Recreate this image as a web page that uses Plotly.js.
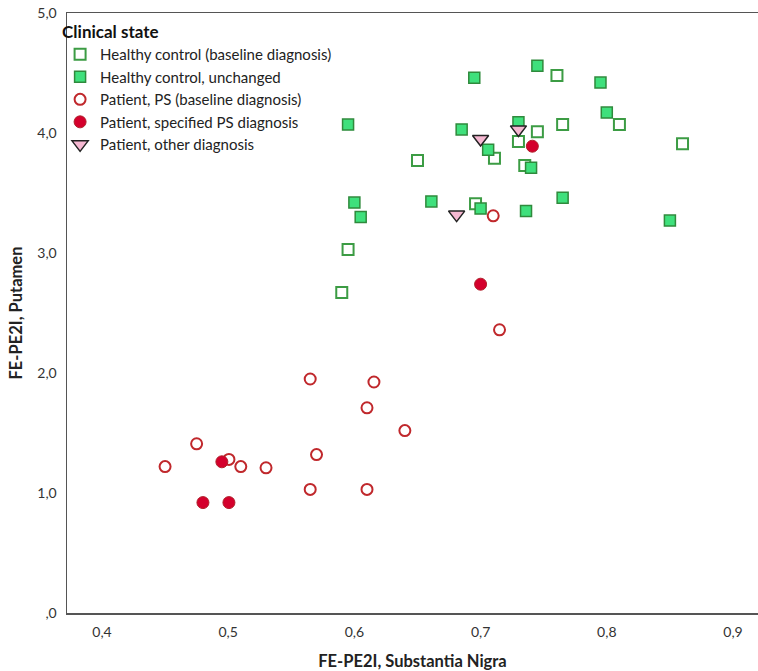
<!DOCTYPE html>
<html>
<head>
<meta charset="utf-8">
<script src="https://cdn.plot.ly/plotly-3.0.1.min.js"></script>
<style>html,body{margin:0;padding:0;background:#fff;}#chart{width:758px;height:671px;}</style>
</head>
<body>
<div id="chart"></div>
<script>
// Healthy control (baseline diagnosis)
const hcBaseX = [0.590, 0.595, 0.650, 0.696, 0.711, 0.730, 0.735, 0.745, 0.765, 0.7605, 0.810, 0.860];
const hcBaseY = [2.67, 3.03, 3.77, 3.41, 3.79, 3.93, 3.73, 4.01, 4.07, 4.48, 4.07, 3.91];
// Healthy control, unchanged
const hcUnchX = [0.695, 0.745, 0.795, 0.595, 0.685, 0.730, 0.800, 0.706, 0.740, 0.600, 0.605, 0.661, 0.700, 0.736, 0.765, 0.850];
const hcUnchY = [4.46, 4.56, 4.42, 4.07, 4.03, 4.09, 4.17, 3.86, 3.71, 3.42, 3.30, 3.43, 3.37, 3.35, 3.46, 3.27];
// Patient, PS (baseline diagnosis)
const psBaseX = [0.710, 0.715, 0.565, 0.6155, 0.610, 0.640, 0.475, 0.570, 0.450, 0.5006, 0.510, 0.530, 0.565, 0.610];
const psBaseY = [3.31, 2.36, 1.95, 1.925, 1.71, 1.52, 1.41, 1.32, 1.22, 1.28, 1.22, 1.21, 1.03, 1.03];
// Patient, specified PS diagnosis
const psSpecX = [0.741, 0.700, 0.495, 0.480, 0.5006];
const psSpecY = [3.89, 2.74, 1.26, 0.92, 0.92];
// Patient, other diagnosis
const otherX = [0.730, 0.700, 0.681];
const otherY = [4.03, 3.95, 3.32];

const xTickVals = [0.4, 0.5, 0.6, 0.7, 0.8, 0.9];
const xTickText = ["0,4", "0,5", "0,6", "0,7", "0,8", "0,9"];
const yTickVals = [0, 1, 2, 3, 4, 5];
const yTickText = [",0", "1,0", "2,0", "3,0", "4,0", "5,0"];

const seriesNames = [
  "Healthy control (baseline diagnosis)",
  "Healthy control, unchanged",
  "Patient, PS (baseline diagnosis)",
  "Patient, specified PS diagnosis",
  "Patient, other diagnosis"
];

const traces = [
  {x: hcBaseX, y: hcBaseY, name: seriesNames[0], type: "scatter", mode: "markers",
   marker: {symbol: "square", size: 11, color: "#ffffff", line: {color: "#3c9c44", width: 2}}},
  {x: hcUnchX, y: hcUnchY, name: seriesNames[1], type: "scatter", mode: "markers",
   marker: {symbol: "square", size: 11, color: "#3fe07c", line: {color: "#2f8a3c", width: 1.5}}},
  {x: psBaseX, y: psBaseY, name: seriesNames[2], type: "scatter", mode: "markers",
   marker: {symbol: "circle", size: 11, color: "#ffffff", line: {color: "#c0282c", width: 2}}},
  {x: psSpecX, y: psSpecY, name: seriesNames[3], type: "scatter", mode: "markers",
   marker: {symbol: "circle", size: 12, color: "#d4002c", line: {color: "#b0202a", width: 1}}},
  {x: otherX, y: otherY, name: seriesNames[4], type: "scatter", mode: "markers",
   marker: {symbol: "triangle-down", size: 14, color: "#f6b8d2", line: {color: "#222222", width: 1.5}}}
];

const layout = {
  width: 758, height: 671,
  margin: {l: 67, r: 0, t: 13, b: 58},
  paper_bgcolor: "#ffffff", plot_bgcolor: "#ffffff",
  font: {family: "Lato, 'Open Sans', sans-serif", color: "#222"},
  showlegend: true,
  legend: {
    x: -0.01, y: 0.995, xanchor: "left", yanchor: "top",
    bgcolor: "rgba(0,0,0,0)", borderwidth: 0,
    font: {size: 15, color: "#222", family: "Lato, 'Open Sans', sans-serif"},
    title: {text: "<b>Clinical state</b>", font: {size: 17, color: "#111"}},
    tracegroupgap: 0, itemwidth: 30
  },
  xaxis: {
    range: [0.3723, 0.9198],
    tickvals: xTickVals, ticktext: xTickText,
    showgrid: false, zeroline: false,
    showline: true, linecolor: "#555", linewidth: 1.5, mirror: true,
    ticks: "", ticklabelstandoff: 6,
    tickfont: {size: 14, color: "#333"},
    title: {text: "<b>FE-PE2I, Substantia Nigra</b>", font: {size: 16.5, color: "#222"}, standoff: 16}
  },
  yaxis: {
    range: [0, 5],
    tickvals: yTickVals, ticktext: yTickText,
    showgrid: false, zeroline: false,
    showline: true, linecolor: "#555", linewidth: 1.5,
    ticks: "", ticklabelstandoff: 6,
    tickfont: {size: 14, color: "#333"},
    title: {text: "<b>FE-PE2I, Putamen</b>", font: {size: 16.5, color: "#222"}, standoff: 10}
  }
};

Plotly.newPlot("chart", traces, layout, {displayModeBar: false, staticPlot: true});
</script>
</body>
</html>
